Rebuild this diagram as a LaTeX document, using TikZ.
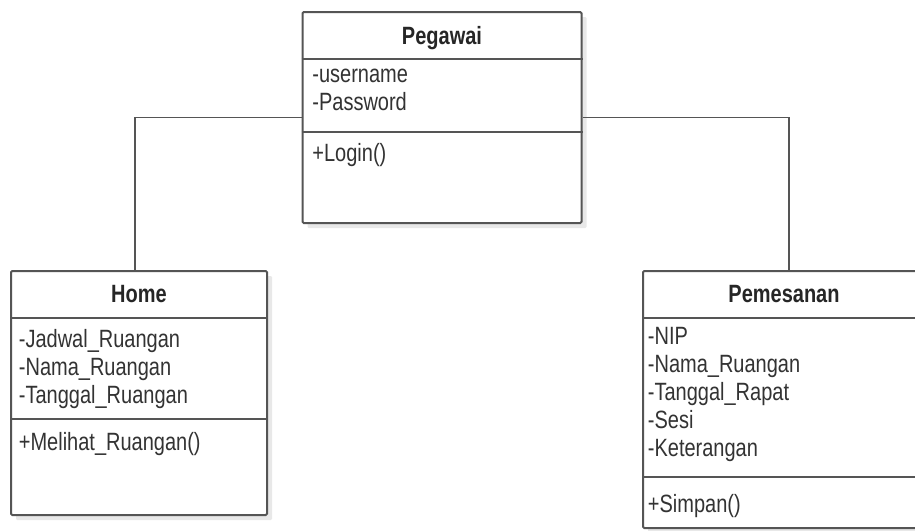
\documentclass[tikz,border=0pt]{standalone}
\usepackage{fontspec}
\setmainfont{Liberation Sans}
\newfontfamily\umlfont[FakeStretch=0.8]{Liberation Sans}
\usepackage{xcolor}
\usepackage{tikz}
\usetikzlibrary{calc,shadows}
\definecolor{umlline}{HTML}{555555}
\definecolor{umltext}{HTML}{333333}

\begin{document}
\begin{tikzpicture}[x=0.5pt,y=-0.5pt,
  cls/.style={draw=umlline,line width=1pt,fill=white,inner sep=0pt,rounded corners=0.6pt,
    general shadow={fill=black!9,shadow xshift=2.5pt,shadow yshift=-2.5pt}},
  sep/.style={draw=umlline,line width=1pt},
  title/.style={font=\umlfont\fontsize{12.5}{14}\selectfont\bfseries,text=black!85,inner sep=0pt,anchor=base},
  attr/.style={font=\umlfont\fontsize{12.5}{14}\selectfont,text=umltext,align=left,anchor=north west,
    inner sep=0pt,execute at begin node=\strut},
  assoc/.style={draw=umlline,line width=0.8pt}]
\clip (0,0) rectangle (915,530);
% Pegawai
\node[cls,minimum width=139.5pt,minimum height=105.5pt] (peg) at (442,117.5) {};
\draw[sep] (peg.west |- 0,59) -- (peg.east |- 0,59); \draw[sep] (peg.west |- 0,131.5) -- (peg.east |- 0,131.5);
\node[title] (pegT) at (442,44.3) {Pegawai};
\node[attr] (pegA) at (312,68.7) {-username\\-Password};
\node[attr] (pegM) at (312,141.4) {+Login()};
% Home
\node[cls,minimum width=128pt,minimum height=122pt] (home) at (139,393) {};
\draw[sep] (home.west |- 0,318) -- (home.east |- 0,318); \draw[sep] (home.west |- 0,419) -- (home.east |- 0,419);
\node[title] (homeT) at (139,302.7) {Home};
\node[attr] (homeA) at (18.5,329.4) {-Jadwal\_Ruangan\\-Nama\_Ruangan\\-Tanggal\_Ruangan};
\node[attr] (homeM) at (18.5,430.4) {+Melihat\_Ruangan()};
% Pemesanan
\node[cls,minimum width=141pt,minimum height=128.5pt] (pem) at (784,399.5) {};
\draw[sep] (pem.west |- 0,318) -- (pem.east |- 0,318); \draw[sep] (pem.west |- 0,477) -- (pem.east |- 0,477);
\node[title] (pemT) at (784,302.7) {Pemesanan};
\node[attr] (pemA) at (647.5,327.1) {-NIP\\-Nama\_Ruangan\\-Tanggal\_Rapat\\-Sesi\\-Keterangan};
\node[attr] (pemM) at (647.5,492.1) {+Simpan()};
% associations
\draw[assoc] (peg.west) -| ([xshift=-2pt]home.north);
\draw[assoc] (peg.east) -| ([xshift=2.5pt]pem.north);
\end{tikzpicture}
\end{document}
